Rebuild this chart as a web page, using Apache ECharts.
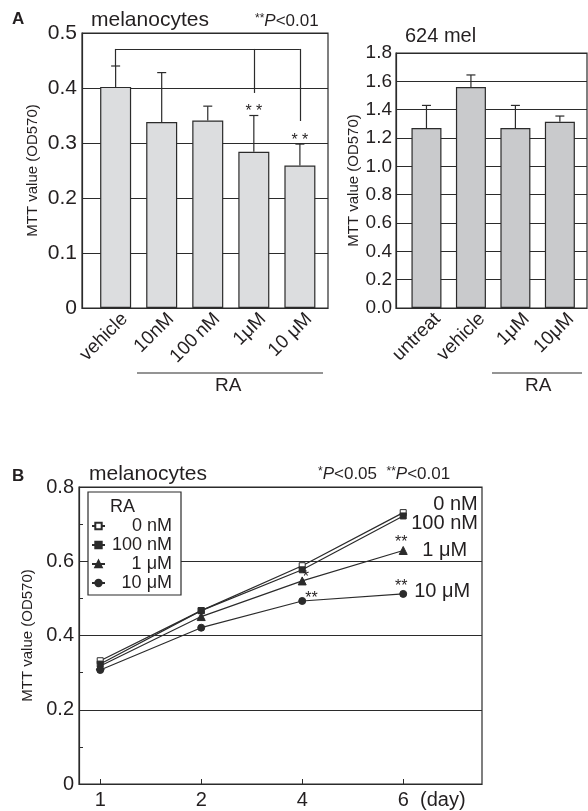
<!DOCTYPE html>
<html>
<head>
<meta charset="utf-8">
<title>MTT assay</title>
<script src="https://cdn.jsdelivr.net/npm/echarts@6/dist/echarts.min.js"></script>
<style>
  html, body { margin: 0; padding: 0; background: #fff; }
  #chart { width: 588px; height: 811px; }
</style>
</head>
<body>
<div id="chart"></div>
<script>
// A, left: melanocytes
var melCats = ['vehicle', '10nM', '100\u2009nM', '1\u03bcM', '10 \u03bcM'];
var melMean = [0.402, 0.338, 0.341, 0.284, 0.259];
var melSd = [0.038, 0.090, 0.026, 0.066, 0.039];
var melSig = ['', '', '', '* *', '* *'];
var bracketTop = 0.471;
var bracketEnds = [0.44, null, null, 0.391, 0.34];

// A, right: 624 mel
var melomaCats = ['untreat', 'vehicle', '1\u03bcM', '10\u03bcM'];
var melomaMean = [1.27, 1.56, 1.27, 1.315];
var melomaSd = [0.16, 0.085, 0.16, 0.04];

// B: time course
var days = ['1', '2', '4', '6'];
var raNames = ['0 nM', '100 nM', '1 \u03bcM', '10 \u03bcM'];
var ra0 = [0.332, 0.467, 0.588, 0.731];
var ra100 = [0.323, 0.467, 0.577, 0.722];
var ra1u = [0.318, 0.451, 0.547, 0.629];
var ra10u = [0.307, 0.421, 0.493, 0.512];
var sig1u = ['', '', '*', '**'];
var sig10u = ['', '', '**', '**'];

var FONT = "'Liberation Sans', Arial, Helvetica, sans-serif";
var INK = '#231f20';
var LINE = '#2b2b2b';

var chart = echarts.init(document.getElementById('chart'));

function txt(size, extra) {
    var s = { fontFamily: FONT, fontSize: size, color: INK, fontWeight: 'normal' };
    for (var k in extra) s[k] = extra[k];
    return s;
}

function errorBars(xi, mean, sd, sig) {
    return {
        type: 'custom', xAxisIndex: xi, yAxisIndex: xi, z: 5, silent: true,
        data: mean.map(function (m, i) { return [i, m, m + sd[i]]; }),
        renderItem: function (params, api) {
            var p0 = api.coord([api.value(0), api.value(1)]);
            var p1 = api.coord([api.value(0), api.value(2)]);
            var st = { stroke: LINE, lineWidth: 1.2 };
            var kids = [
                { type: 'line', shape: { x1: p0[0], y1: p0[1], x2: p1[0], y2: p1[1] }, style: st },
                { type: 'line', shape: { x1: p1[0] - 4.5, y1: p1[1], x2: p1[0] + 4.5, y2: p1[1] }, style: st }
            ];
            var s = sig ? sig[params.dataIndex] : '';
            if (s) {
                kids.push({ type: 'text', x: p1[0], y: p1[1] + 4,
                    style: { text: s, fontSize: 16, fontFamily: FONT, fill: INK, align: 'center', verticalAlign: 'bottom' } });
            }
            return { type: 'group', children: kids };
        }
    };
}

var bracketLines = [[{ coord: [0, bracketTop] }, { coord: [4, bracketTop] }]];
bracketEnds.forEach(function (e, i) {
    if (e !== null) bracketLines.push([{ coord: [i, bracketTop] }, { coord: [i, e] }]);
});

function raSeries(name, vals, symbol, size, fill, sig, endOffset) {
    return {
        name: name, type: 'line', xAxisIndex: 2, yAxisIndex: 2,
        symbol: symbol, symbolSize: size, z: 3,
        lineStyle: { color: LINE, width: 1.2 },
        itemStyle: { color: fill, borderColor: LINE, borderWidth: 1 },
        data: vals.map(function (v, i) {
            var d = { value: [i, v] };
            if (sig && sig[i]) {
                d.label = {
                    show: true, formatter: sig[i],
                    position: i === 3 ? 'top' : 'right',
                    offset: i === 3 ? [-2, 10] : (sig[i] === '*' ? [-9, -3] : [-6, -2]),
                    fontSize: 16, fontFamily: FONT, color: INK
                };
            }
            return d;
        }),
        endLabel: { show: true, formatter: '{a}', offset: endOffset, fontSize: 20, fontFamily: FONT, color: INK }
    };
}

function yAxisBase(grid, max, step, gap, labelSize, margin, fmt) {
    return {
        gridIndex: grid, type: 'value', min: 0, max: max, interval: step,
        name: 'MTT value (OD570)', nameLocation: 'middle', nameGap: gap, nameTextStyle: txt(15),
        axisLine: { show: true, onZero: false, lineStyle: { color: LINE, width: 1.2 } },
        axisTick: { show: false },
        splitLine: { lineStyle: { color: LINE, width: 1.2 } },
        axisLabel: { margin: margin, fontSize: labelSize, fontFamily: FONT, color: INK, formatter: fmt }
    };
}

function zeroPlain(v) { return v === 0 ? '0' : v.toFixed(1); }

var yB = yAxisBase(2, 0.8, 0.2, 39, 20, 5, zeroPlain);
yB.axisTick = { show: true, inside: true, length: 4, lineStyle: { color: LINE } };
yB.minorTick = { show: true, splitNumber: 2, length: 4, lineStyle: { color: LINE } };

var option = {
    backgroundColor: '#fff',
    animation: false,
    title: [
        { text: 'A', left: 12, top: 11, padding: 0, textStyle: txt(17, { fontWeight: 'bold' }) },
        { text: 'melanocytes', left: 91, top: 10, padding: 0, textStyle: txt(21) },
        { text: '{s|**}{i|P}<0.01', left: 255, top: 13, padding: 0,
          textStyle: txt(17, { rich: { s: txt(12, { verticalAlign: 'top' }), i: txt(17, { fontStyle: 'italic' }) } }) },
        { text: '624 mel', left: 405, top: 26, padding: 0, textStyle: txt(20) },
        { text: 'RA', left: 215, top: 376, padding: 0, textStyle: txt(19) },
        { text: 'RA', left: 525, top: 376, padding: 0, textStyle: txt(19) },
        { text: 'B', left: 12, top: 468, padding: 0, textStyle: txt(17, { fontWeight: 'bold' }) },
        { text: 'melanocytes', left: 89, top: 464, padding: 0, textStyle: txt(21) },
        { text: '{s|*}{i|P}<0.05  {s|**}{i|P}<0.01', left: 318, top: 466, padding: 0,
          textStyle: txt(17, { rich: { s: txt(12, { verticalAlign: 'top' }), i: txt(17, { fontStyle: 'italic' }) } }) },
        { text: 'RA', left: 110, top: 498, padding: 0, textStyle: txt(18) }
    ],
    legend: {
        left: 88, top: 492, orient: 'vertical',
        padding: [25, 9, 3, 3], itemGap: 1, itemWidth: 13, itemHeight: 8,
        borderColor: LINE, borderWidth: 1.2, backgroundColor: '#fff',
        data: raNames,
        formatter: function (n) { return '{t|' + n + '}'; },
        textStyle: { rich: { t: txt(18, { width: 62, align: 'right', lineHeight: 18 }) } }
    },
    grid: [
        { left: 82, top: 33, width: 246, height: 275, show: true, borderColor: LINE, borderWidth: 1.2 },
        { left: 396, top: 53, width: 191, height: 255, show: true, borderColor: LINE, borderWidth: 1.2 },
        { left: 79, top: 487, width: 403, height: 297, show: true, borderColor: LINE, borderWidth: 1.2 }
    ],
    xAxis: [
        {
            gridIndex: 0, type: 'value', min: -0.73, max: 4.61,
            axisLine: { lineStyle: { color: LINE, width: 1.2 } },
            axisTick: { show: false }, splitLine: { show: false },
            axisLabel: {
                rotate: 45, margin: 8, customValues: [0.2, 1.2, 2.2, 3.2, 4.2],
                formatter: function (v) { return melCats[Math.round(v - 0.2)]; },
                fontSize: 19, fontFamily: FONT, color: INK
            }
        },
        {
            gridIndex: 1, type: 'value', min: -0.685, max: 3.61,
            axisLine: { lineStyle: { color: LINE, width: 1.2 } },
            axisTick: { show: false }, splitLine: { show: false },
            axisLabel: {
                rotate: 45, margin: 8, customValues: [0.25, 1.25, 2.25, 3.25],
                formatter: function (v) { return melomaCats[Math.round(v - 0.25)]; },
                fontSize: 19, fontFamily: FONT, color: INK
            }
        },
        {
            gridIndex: 2, type: 'value', min: -0.21, max: 3.78,
            axisLine: { lineStyle: { color: LINE, width: 1.2 } },
            axisTick: { show: true, inside: true, length: 5, customValues: [0, 1, 2, 3], lineStyle: { color: LINE } },
            splitLine: { show: false },
            axisLabel: {
                margin: 6, customValues: [0, 1, 2, 3],
                formatter: function (v) { return days[Math.round(v)]; },
                fontSize: 20, fontFamily: FONT, color: INK
            },
            name: '(day)', nameLocation: 'end', nameGap: -62,
            nameTextStyle: txt(20, { align: 'left', verticalAlign: 'top', padding: [6, 0, 0, 0] })
        }
    ],
    yAxis: [
        yAxisBase(0, 0.5, 0.1, 42, 21, 5, zeroPlain),
        yAxisBase(1, 1.8, 0.2, 34, 19, 4, function (v) { return v.toFixed(1); }),
        yB
    ],
    graphic: [
        { type: 'line', shape: { x1: 137, y1: 373, x2: 323, y2: 373 }, style: { stroke: LINE, lineWidth: 1.2 } },
        { type: 'line', shape: { x1: 492, y1: 373, x2: 582, y2: 373 }, style: { stroke: LINE, lineWidth: 1.2 } }
    ],
    series: [
        {
            type: 'bar', xAxisIndex: 0, yAxisIndex: 0, barWidth: 31,
            data: melMean.map(function (v, i) { return [i, v]; }),
            itemStyle: { color: '#dcdddf', borderColor: LINE, borderWidth: 1.2 },
            markLine: {
                silent: true, symbol: ['none', 'none'], label: { show: false },
                lineStyle: { color: LINE, width: 1.2, type: 'solid' },
                data: bracketLines
            }
        },
        errorBars(0, melMean, melSd, melSig),
        {
            type: 'bar', xAxisIndex: 1, yAxisIndex: 1, barWidth: 30,
            data: melomaMean.map(function (v, i) { return [i, v]; }),
            itemStyle: { color: '#c9cacc', borderColor: LINE, borderWidth: 1.2 }
        },
        errorBars(1, melomaMean, melomaSd, null),
        raSeries(raNames[0], ra0, 'rect', 6, '#fff', null, [22, -8]),
        raSeries(raNames[1], ra100, 'rect', 6, LINE, null, [0, 8]),
        raSeries(raNames[2], ra1u, 'triangle', 8, LINE, sig1u, [11, 0]),
        raSeries(raNames[3], ra10u, 'circle', 7, LINE, sig10u, [3, -2])
    ]
};

chart.setOption(option);
</script>
</body>
</html>
